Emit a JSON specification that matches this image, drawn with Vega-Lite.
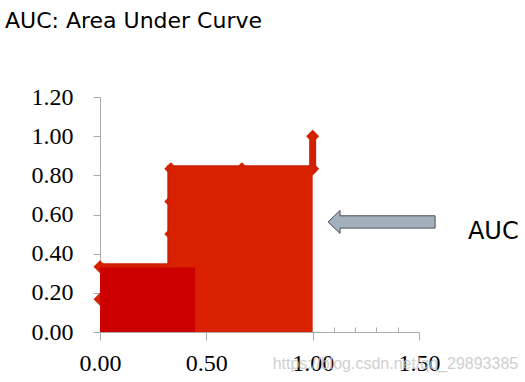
{
  "$schema": "https://vega.github.io/schema/vega-lite/v6.json",
  "width": 319,
  "height": 235,
  "autosize": {"type": "none"},
  "padding": {"left": 100, "top": 97, "right": 106, "bottom": 50},
  "background": "white",
  "config": {
    "view": {"stroke": null},
    "axis": {"labelOverlap": false, "labelFlush": false, "grid": false, "title": null}
  },
  "title": {
    "text": "AUC: Area Under Curve",
    "anchor": "start",
    "frame": "group",
    "dx": -95,
    "offset": 35,
    "baseline": "alphabetic",
    "font": "DejaVu Sans",
    "fontSize": 22,
    "fontWeight": "normal",
    "color": "black"
  },
  "datasets": {
    "curve": [
      {"x": 0, "y": 0.333},
      {"x": 0.333, "y": 0.833},
      {"x": 1.0, "y": 1.0}
    ],
    "area": [
      {"x": 0, "y": 0.333},
      {"x": 0.333, "y": 0.833},
      {"x": 1.0, "y": 0.833}
    ],
    "markers": [
      {"x": 0, "y": 0.167},
      {"x": 0, "y": 0.333},
      {"x": 0.333, "y": 0.5},
      {"x": 0.333, "y": 0.667},
      {"x": 0.333, "y": 0.833},
      {"x": 0.667, "y": 0.833},
      {"x": 1.0, "y": 0.833},
      {"x": 1.0, "y": 1.0}
    ],
    "dark": [
      {"x": 0, "x2": 0.447, "y": 0, "y2": 0.33}
    ],
    "arrow": [
      {"x": 1.324, "y": 0.562}
    ],
    "label": [
      {"x": 1.73, "y": 0.475, "text": "AUC"}
    ],
    "watermark": [
      {"x": 0.812, "y": -0.19, "text": "https://blog.csdn.net/qq_29893385"}
    ]
  },
  "resolve": {"axis": {"x": "independent", "y": "independent"}},
  "layer": [
    {
      "data": {"name": "curve"},
      "mark": {"type": "line", "interpolate": "step-after", "strokeWidth": 7, "color": "#d02000"},
      "encoding": {
        "x": {
          "field": "x", "type": "quantitative",
          "scale": {"domain": [0, 1.5], "nice": false, "zero": false},
          "axis": {
            "orient": "bottom",
            "values": [0, 0.5, 1.0, 1.5],
            "format": ".2f",
            "domainColor": "#aaaaaa",
            "tickColor": "#aaaaaa",
            "tickSize": 8,
            "labelFont": "Liberation Serif",
            "labelFontSize": 24,
            "labelColor": "black",
            "labelPadding": 11,
            "labelOverlap": false
          }
        },
        "y": {
          "field": "y", "type": "quantitative",
          "scale": {"domain": [0, 1.2], "nice": false, "zero": false},
          "axis": {
            "orient": "left",
            "values": [0, 0.4, 0.8, 1.2],
            "format": ".2f",
            "domainColor": "#aaaaaa",
            "tickColor": "#aaaaaa",
            "tickSize": 7,
            "labelFont": "Liberation Serif",
            "labelFontSize": 24,
            "labelColor": "black",
            "labelPadding": 20,
            "labelOverlap": false
          }
        }
      }
    },
    {
      "data": {"name": "markers"},
      "mark": {"type": "point", "shape": "diamond", "filled": true, "size": 170, "opacity": 1, "color": "#d42200"},
      "encoding": {
        "x": {
          "field": "x", "type": "quantitative",
          "axis": {
            "orient": "bottom",
            "values": [0.1, 0.2, 0.3, 0.4, 0.6, 0.7, 0.8, 0.9, 1.1, 1.2, 1.3, 1.4],
            "labels": false,
            "domain": false,
            "tickColor": "#aaaaaa",
            "tickSize": -5
          }
        },
        "y": {
          "field": "y", "type": "quantitative",
          "axis": {
            "orient": "left",
            "values": [0.2, 0.6, 1.0],
            "format": ".2f",
            "domain": false,
            "tickColor": "#aaaaaa",
            "tickSize": 7,
            "labelFont": "Liberation Serif",
            "labelFontSize": 24,
            "labelColor": "black",
            "labelPadding": 20,
            "labelOverlap": false
          }
        }
      }
    },
    {
      "data": {"name": "area"},
      "mark": {"type": "area", "interpolate": "step-after", "color": "#d92100", "opacity": 1},
      "encoding": {
        "x": {"field": "x", "type": "quantitative", "axis": null},
        "y": {"field": "y", "type": "quantitative", "axis": null}
      }
    },
    {
      "data": {"name": "dark"},
      "mark": {"type": "rect", "color": "#cc0000"},
      "encoding": {
        "x": {"field": "x", "type": "quantitative", "axis": null},
        "x2": {"field": "x2"},
        "y": {"field": "y", "type": "quantitative", "axis": null},
        "y2": {"field": "y2"}
      }
    },
    {
      "data": {"name": "arrow"},
      "mark": {
        "type": "point",
        "shape": "M -1 0 L -0.776 -0.215 L -0.776 -0.115 L 1 -0.115 L 1 0.115 L -0.776 0.115 L -0.776 0.215 Z",
        "size": 11449,
        "filled": true,
        "fill": "#a3b1bf",
        "stroke": "#4d4d4d",
        "strokeWidth": 1,
        "opacity": 1
      },
      "encoding": {
        "x": {"field": "x", "type": "quantitative", "axis": null},
        "y": {"field": "y", "type": "quantitative", "axis": null}
      }
    },
    {
      "data": {"name": "label"},
      "mark": {"type": "text", "align": "left", "baseline": "alphabetic", "font": "DejaVu Sans", "fontSize": 24, "color": "black"},
      "encoding": {
        "x": {"field": "x", "type": "quantitative", "axis": null},
        "y": {"field": "y", "type": "quantitative", "axis": null},
        "text": {"field": "text"}
      }
    },
    {
      "data": {"name": "watermark"},
      "mark": {"type": "text", "align": "left", "baseline": "alphabetic", "font": "Liberation Sans", "fontSize": 16, "color": "#c8c8c8", "opacity": 0.85},
      "encoding": {
        "x": {"field": "x", "type": "quantitative", "axis": null},
        "y": {"field": "y", "type": "quantitative", "axis": null},
        "text": {"field": "text"}
      }
    }
  ]
}
